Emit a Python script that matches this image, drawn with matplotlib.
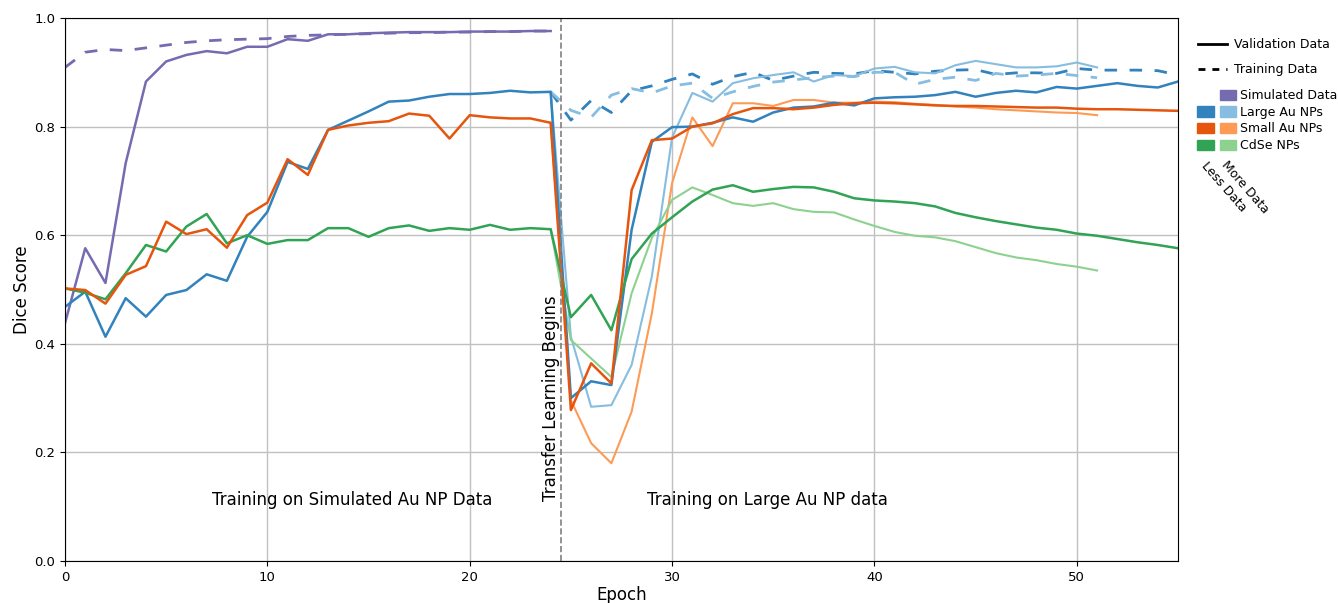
import numpy as np
import matplotlib.pyplot as plt
from matplotlib.lines import Line2D
from matplotlib.patches import Patch

# epochs for the full run and for the pieces
epochs = np.arange(0, 56)
sim_epochs = np.arange(0, 25)
more_epochs = np.arange(24, 52)
train_epochs = np.arange(24, 56)

# simulated data (before transfer learning)
sim_val = [0.438, 0.576, 0.512, 0.733, 0.883, 0.920, 0.932, 0.939, 0.935, 0.947,
           0.947, 0.961, 0.958, 0.970, 0.970, 0.972, 0.973, 0.974, 0.974, 0.974,
           0.975, 0.975, 0.975, 0.976, 0.976]
sim_train = [0.909, 0.937, 0.942, 0.940, 0.945, 0.950, 0.955, 0.958, 0.960, 0.961,
             0.962, 0.966, 0.968, 0.969, 0.970, 0.971, 0.972, 0.973, 0.973, 0.974,
             0.974, 0.975, 0.975, 0.976, 0.976]

# validation, less data
large_val = [0.468, 0.496, 0.413, 0.484, 0.450, 0.490, 0.499, 0.528, 0.516, 0.597,
             0.643, 0.735, 0.722, 0.794, 0.811, 0.828, 0.846, 0.848, 0.855, 0.860,
             0.860, 0.862, 0.866, 0.863, 0.864, 0.300, 0.331, 0.324, 0.610, 0.772,
             0.799, 0.800, 0.807, 0.817, 0.809, 0.826, 0.835, 0.837, 0.844, 0.839,
             0.852, 0.854, 0.855, 0.858, 0.864, 0.855, 0.862, 0.866, 0.863, 0.873,
             0.870, 0.875, 0.880, 0.875, 0.872, 0.883]
small_val = [0.502, 0.499, 0.474, 0.527, 0.543, 0.625, 0.602, 0.611, 0.577, 0.637,
             0.660, 0.740, 0.711, 0.794, 0.802, 0.807, 0.810, 0.824, 0.820, 0.778,
             0.821, 0.817, 0.815, 0.815, 0.807, 0.278, 0.364, 0.327, 0.683, 0.775,
             0.778, 0.800, 0.806, 0.823, 0.834, 0.834, 0.832, 0.835, 0.840, 0.843,
             0.844, 0.843, 0.841, 0.839, 0.838, 0.838, 0.837, 0.836, 0.835, 0.835,
             0.833, 0.832, 0.832, 0.831, 0.830, 0.829]
cdse_val = [0.502, 0.494, 0.482, 0.530, 0.582, 0.570, 0.616, 0.639, 0.585, 0.600,
            0.584, 0.591, 0.591, 0.613, 0.613, 0.597, 0.613, 0.618, 0.608, 0.613,
            0.610, 0.619, 0.610, 0.613, 0.611, 0.449, 0.490, 0.425, 0.556, 0.603,
            0.633, 0.662, 0.684, 0.692, 0.680, 0.685, 0.689, 0.688, 0.680, 0.668,
            0.664, 0.662, 0.659, 0.653, 0.641, 0.633, 0.626, 0.620, 0.614, 0.610,
            0.603, 0.599, 0.593, 0.587, 0.582, 0.576]

# validation, more data
large_more = [0.864, 0.413, 0.284, 0.287, 0.361, 0.524, 0.780, 0.862, 0.846, 0.880,
              0.889, 0.895, 0.900, 0.883, 0.895, 0.893, 0.907, 0.910, 0.900, 0.898,
              0.913, 0.921, 0.915, 0.909, 0.909, 0.911, 0.918, 0.909]
small_more = [0.807, 0.296, 0.217, 0.180, 0.275, 0.456, 0.696, 0.817, 0.764, 0.843,
              0.843, 0.838, 0.849, 0.849, 0.844, 0.844, 0.846, 0.845, 0.842, 0.840,
              0.837, 0.835, 0.832, 0.830, 0.828, 0.826, 0.825, 0.821]
cdse_more = [0.611, 0.407, 0.373, 0.339, 0.493, 0.595, 0.665, 0.688, 0.674, 0.659,
             0.654, 0.659, 0.648, 0.643, 0.642, 0.629, 0.617, 0.606, 0.599, 0.596,
             0.589, 0.578, 0.567, 0.559, 0.554, 0.547, 0.542, 0.535]

# training on large Au NPs
large_train = [0.864, 0.812, 0.848, 0.826, 0.866, 0.875, 0.887, 0.897, 0.878, 0.892,
               0.900, 0.885, 0.893, 0.900, 0.898, 0.897, 0.903, 0.900, 0.897, 0.902,
               0.904, 0.905, 0.896, 0.899, 0.899, 0.898, 0.907, 0.904, 0.904, 0.904,
               0.903, 0.895]
large_more_train = [0.864, 0.830, 0.817, 0.858, 0.870, 0.862, 0.875, 0.880, 0.852, 0.864,
                    0.874, 0.882, 0.886, 0.890, 0.893, 0.892, 0.900, 0.900, 0.878, 0.887,
                    0.891, 0.885, 0.898, 0.893, 0.895, 0.898, 0.894, 0.890]

purple = '#756bb1'
blue, blue_l = '#3182bd', '#86bde0'
orange, orange_l = '#e6550d', '#fd9b55'
green, green_l = '#31a354', '#8dd18f'
dash = (0, (4.5, 4.5))

fig = plt.figure(figsize=(13.38, 6.03), dpi=100)
ax = fig.add_axes([65 / 1338, 1 - 561 / 603, 1113 / 1338, 543 / 603])

ax.grid(True, color='#c0c0c0', lw=1)
ax.set_axisbelow(True)

ax.plot(sim_epochs, sim_train, color=purple, lw=2, ls=dash)
ax.plot(sim_epochs, sim_val, color=purple, lw=1.8)

ax.plot(train_epochs, large_train, color=blue, lw=2, ls=dash)
ax.plot(more_epochs, large_more_train, color=blue_l, lw=2, ls=dash)

ax.plot(more_epochs, large_more, color=blue_l, lw=1.5)
ax.plot(more_epochs, small_more, color=orange_l, lw=1.5)
ax.plot(more_epochs, cdse_more, color=green_l, lw=1.5)

ax.plot(epochs, large_val, color=blue, lw=1.8)
ax.plot(epochs, cdse_val, color=green, lw=1.8)
ax.plot(epochs, small_val, color=orange, lw=1.8)

ax.axvline(24.5, color='#808080', ls='--', lw=1.2)

ax.text(14.2, 0.112, 'Training on Simulated Au NP Data', fontsize=12, ha='center', va='center')
ax.text(34.7, 0.112, 'Training on Large Au NP data', fontsize=12, ha='center', va='center')
ax.text(24.0, 0.30, 'Transfer Learning Begins', fontsize=12, rotation=90, ha='center', va='center')

ax.set_xlim(0, 55)
ax.set_ylim(0, 1)
ax.set_xticks([0, 10, 20, 30, 40, 50])
ax.set_yticks([0.0, 0.2, 0.4, 0.6, 0.8, 1.0])
ax.tick_params(labelsize=9.5)
ax.set_xlabel('Epoch', fontsize=12, labelpad=2)
ax.set_ylabel('Dice Score', fontsize=12, labelpad=2)

# legend for line style
style_handles = [Line2D([], [], color='black', lw=2),
                 Line2D([], [], color='black', lw=2, ls=(0, (2.5, 2.5)))]
leg1 = fig.legend(style_handles, ['Validation Data', 'Training Data'],
                  loc='upper left', bbox_to_anchor=(1198 / 1338, 1 - 38 / 603),
                  frameon=False, fontsize=9, handlelength=2.3, handletextpad=0.6,
                  labelspacing=0.95, borderpad=0, borderaxespad=0)

# legend for colours, two columns: less data / more data
blank = Patch(facecolor='none', edgecolor='none')
col_handles = [blank, Patch(color=blue), Patch(color=orange), Patch(color=green),
               Patch(color=purple), Patch(color=blue_l), Patch(color=orange_l), Patch(color=green_l)]
col_labels = ['', '', '', '', 'Simulated Data', 'Large Au NPs', 'Small Au NPs', 'CdSe NPs']
leg2 = fig.legend(col_handles, col_labels, ncol=2,
                  loc='upper left', bbox_to_anchor=(1197 / 1338, 1 - 89 / 603),
                  frameon=False, fontsize=9, handlelength=1.35, handleheight=0.9,
                  handletextpad=0.3, columnspacing=0.15, labelspacing=0.3,
                  borderpad=0, borderaxespad=0)

fig.text(1224 / 1338, 1 - 187 / 603, 'Less Data', fontsize=9, rotation=-49,
         ha='center', va='center', rotation_mode='anchor')
fig.text(1245 / 1338, 1 - 187 / 603, 'More Data', fontsize=9, rotation=-49,
         ha='center', va='center', rotation_mode='anchor')

fig.savefig('out.png', dpi=100)
